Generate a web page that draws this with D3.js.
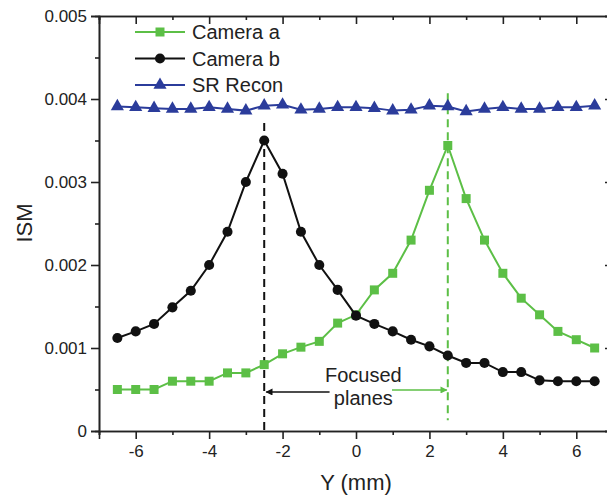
<!DOCTYPE html>
<meta charset="utf-8">
<script src="https://d3js.org/d3.v7.min.js"></script>
<style>
  body { margin: 0; background: #fff; }
  text { font-family: "Liberation Sans", Arial, sans-serif; fill: #222; }
</style>
<div id="my_dataviz"></div>
<script>

// positions along Y (mm)
var yPos = [-6.5, -6, -5.5, -5, -4.5, -4, -3.5, -3, -2.5, -2, -1.5, -1, -0.5, 0,
            0.5, 1, 1.5, 2, 2.5, 3, 3.5, 4, 4.5, 5, 5.5, 6, 6.5];

var cameraA = [0.0005, 0.0005, 0.0005, 0.0006, 0.0006, 0.0006, 0.0007, 0.0007, 0.0008,
               0.00093, 0.00101, 0.00108, 0.0013, 0.0014, 0.0017, 0.0019, 0.0023, 0.0029,
               0.00344, 0.0028, 0.0023, 0.0019, 0.0016, 0.0014, 0.0012, 0.0011, 0.001];

var cameraB = [0.00112, 0.0012, 0.00129, 0.00149, 0.00169, 0.002, 0.0024, 0.003, 0.0035,
               0.0031, 0.0024, 0.002, 0.0017, 0.00139, 0.00129, 0.0012, 0.0011, 0.00102,
               0.00091, 0.00082, 0.00082, 0.00071, 0.00071, 0.00061, 0.0006, 0.0006, 0.0006];

var srRecon = [0.00391, 0.0039, 0.00389, 0.00388, 0.00388, 0.0039, 0.00388, 0.00386, 0.00392,
               0.00393, 0.00387, 0.00388, 0.0039, 0.0039, 0.00389, 0.00386, 0.00387, 0.00392,
               0.00391, 0.00385, 0.00388, 0.0039, 0.00388, 0.00388, 0.0039, 0.0039, 0.00392];

var xTicks = [-6, -4, -2, 0, 2, 4, 6];
var xMinor = [-7, -5, -3, -1, 1, 3, 5, 7];
var yTicks = [0, 0.001, 0.002, 0.003, 0.004, 0.005];
var yMinor = [0.0005, 0.0015, 0.0025, 0.0035, 0.0045];

// focused planes (mm)
var focusB = -2.5, focusA = 2.5;

var series = [
  {name: "Camera a", values: cameraA, color: "#5cbf46", symbol: d3.symbolSquare, size: 81},
  {name: "Camera b", values: cameraB, color: "#111111", symbol: d3.symbolCircle, size: 80},
  {name: "SR Recon", values: srRecon, color: "#2b3c9b", symbol: d3.symbolTriangle, size: 75}
];

var margin = {top: 16, right: -6, bottom: 70, left: 99},
    W = 607, H = 501,
    width = W - margin.left - margin.right,
    height = H - margin.top - margin.bottom;

var svg = d3.select("#my_dataviz")
  .append("svg")
    .attr("width", W)
    .attr("height", H)
  .append("g")
    .attr("transform", "translate(" + margin.left + "," + margin.top + ")");

var x = d3.scaleLinear().domain([-7, 7]).range([0, width]);
var y = d3.scaleLinear().domain([0, 0.005]).range([height, 0]);

function styleAxis(g) {
  g.select(".domain").attr("stroke", "#222").attr("stroke-width", 1.6);
  g.selectAll(".tick line").attr("stroke", "#222").attr("stroke-width", 1.6);
  g.selectAll(".tick text").style("font-size", "17px").attr("fill", "#333");
}

// bottom
svg.append("g").attr("transform", "translate(0," + height + ")")
  .call(d3.axisBottom(x).tickValues(xTicks).tickSize(8).tickPadding(6)
    .tickFormat(function(d) { return d; }))
  .call(styleAxis);
svg.append("g").attr("transform", "translate(0," + height + ")")
  .call(d3.axisBottom(x).tickValues(xMinor).tickSize(4).tickFormat(""))
  .call(styleAxis);
// top
svg.append("g")
  .call(d3.axisTop(x).tickValues(xTicks).tickSize(-8).tickFormat(""))
  .call(styleAxis);
svg.append("g")
  .call(d3.axisTop(x).tickValues(xMinor).tickSize(-4).tickFormat(""))
  .call(styleAxis);
// left
svg.append("g")
  .call(d3.axisLeft(y).tickValues(yTicks).tickSize(8).tickPadding(4)
    .tickFormat(function(d) { return d === 0 ? "0" : d3.format(".3f")(d); }))
  .call(styleAxis);
svg.append("g")
  .call(d3.axisLeft(y).tickValues(yMinor).tickSize(4).tickFormat(""))
  .call(styleAxis);
// right
svg.append("g").attr("transform", "translate(" + width + ",0)")
  .call(d3.axisRight(y).tickValues(yTicks).tickSize(-8).tickFormat(""))
  .call(styleAxis);
svg.append("g").attr("transform", "translate(" + width + ",0)")
  .call(d3.axisRight(y).tickValues(yMinor).tickSize(-4).tickFormat(""))
  .call(styleAxis);

// axis titles
svg.append("text")
  .attr("x", x(0)).attr("y", height + 59)
  .attr("text-anchor", "middle")
  .style("font-size", "22px")
  .text("Y (mm)");
svg.append("text")
  .attr("transform", "translate(" + (-67) + "," + 207 + ") rotate(-90)")
  .attr("text-anchor", "middle")
  .style("font-size", "22px")
  .text("ISM");

// focus lines
svg.append("line")
  .attr("x1", x(focusB)).attr("x2", x(focusB))
  .attr("y1", y(0.00371)).attr("y2", height)
  .attr("stroke", "#111").attr("stroke-width", 2).attr("stroke-dasharray", "8,5");
svg.append("line")
  .attr("x1", x(focusA)).attr("x2", x(focusA))
  .attr("y1", y(0.00407)).attr("y2", y(0.00013))
  .attr("stroke", "#5cbf46").attr("stroke-width", 2).attr("stroke-dasharray", "8,5");

// data lines and markers
var line = d3.line()
  .x(function(d, i) { return x(yPos[i]); })
  .y(function(d) { return y(d); });

series.forEach(function(s) {
  svg.append("path")
    .datum(s.values)
    .attr("fill", "none")
    .attr("stroke", s.color)
    .attr("stroke-width", 2)
    .attr("d", line);
  svg.selectAll(null)
    .data(s.values)
    .enter()
    .append("path")
      .attr("d", d3.symbol().type(s.symbol).size(s.size))
      .attr("transform", function(d, i) { return "translate(" + x(yPos[i]) + "," + y(d) + ")"; })
      .attr("fill", s.color);
});

// annotation
var defs = svg.append("defs");
[["arrB", "#111"], ["arrA", "#5cbf46"]].forEach(function(a) {
  defs.append("marker")
    .attr("id", a[0]).attr("viewBox", "0 0 10 10")
    .attr("refX", 9).attr("refY", 5)
    .attr("markerWidth", 9).attr("markerHeight", 7)
    .attr("markerUnits", "userSpaceOnUse")
    .attr("orient", "auto")
    .append("path").attr("d", "M0,0L10,5L0,10z").attr("fill", a[1]);
});
var annY = y(0.00047);
svg.append("line")
  .attr("x1", x(-0.72)).attr("x2", x(focusB) + 2)
  .attr("y1", annY).attr("y2", annY)
  .attr("stroke", "#111").attr("stroke-width", 1.5)
  .attr("marker-end", "url(#arrB)");
svg.append("line")
  .attr("x1", x(0.98)).attr("x2", x(focusA) - 1)
  .attr("y1", annY - 2).attr("y2", annY - 2)
  .attr("stroke", "#5cbf46").attr("stroke-width", 1.5)
  .attr("marker-end", "url(#arrA)");
svg.append("text")
  .attr("x", x(0.2)).attr("y", annY - 10)
  .attr("text-anchor", "middle").style("font-size", "20px")
  .text("Focused");
svg.append("text")
  .attr("x", x(0.2)).attr("y", annY + 13)
  .attr("text-anchor", "middle").style("font-size", "20px")
  .text("planes");

// legend
var legend = svg.selectAll(".legend")
  .data(series)
  .enter()
  .append("g")
    .attr("transform", function(d, i) { return "translate(" + 36 + "," + (16 + i * 26.5) + ")"; });
legend.append("line")
  .attr("x1", 0).attr("x2", 50)
  .attr("stroke", function(d) { return d.color; })
  .attr("stroke-width", 2);
legend.append("path")
  .attr("d", function(d) { return d3.symbol().type(d.symbol).size(d.size)(); })
  .attr("transform", "translate(25,0)")
  .attr("fill", function(d) { return d.color; });
legend.append("text")
  .attr("x", 57).attr("y", 7)
  .style("font-size", "20px")
  .text(function(d) { return d.name; });

</script>
